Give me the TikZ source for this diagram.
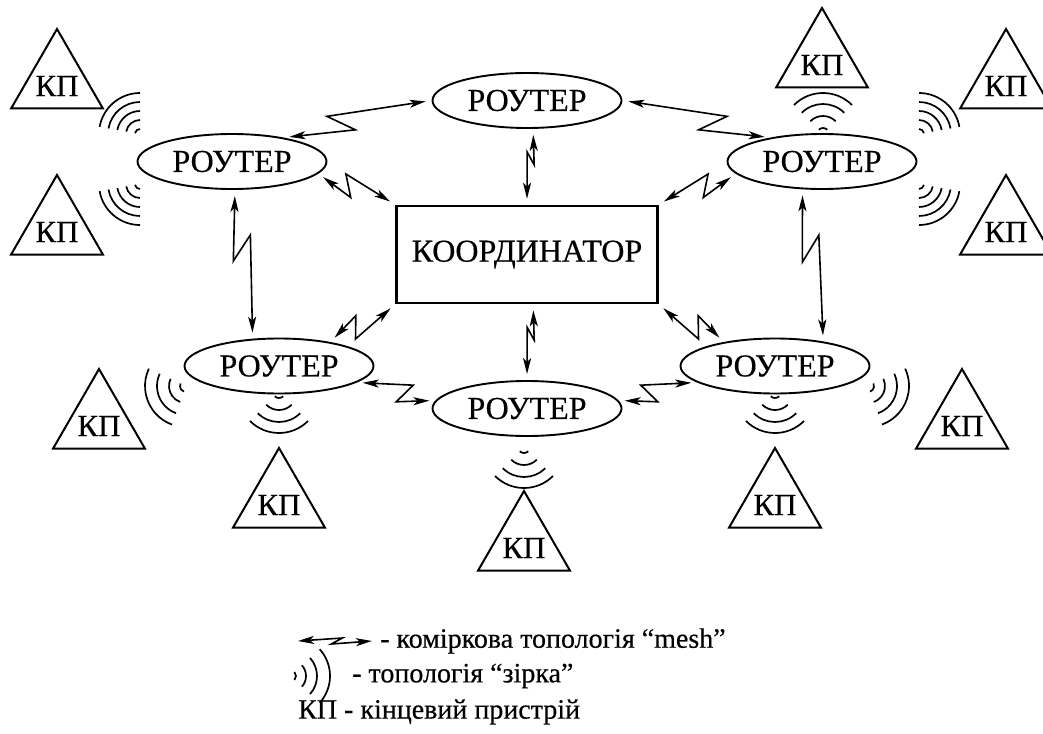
\documentclass[tikz,border=0pt]{standalone}
\usepackage{fontspec}
\setmainfont{Liberation Serif}[FakeBold=0.4]
\usetikzlibrary{shapes.geometric, arrows.meta, calc}

% lightning link: [kink size] start, end, side of first kink, side of second kink
\newcommand{\zap}[5][10pt]{\draw [zap, shorten <=6pt, shorten >=6pt] (#2) -- ($(#2)!0.47!(#3)!#1!#4:(#3)$) -- ($(#2)!0.31!(#3)!#1!#5:(#3)$) -- (#3);}
% radio waves: centre, start angle, end angle, radii
\newcommand{\waves}[4]{\foreach \r in {#4} \draw [wave] (#1) ++(#2:\r) arc[start angle=#2, end angle=#3, radius=\r];}

\begin{document}
\begin{tikzpicture}[x=1pt, y=1pt, node distance=154pt]
        \tikzstyle{coordinator} = [rectangle, minimum width=261pt, minimum height=97pt, text centered, draw=black, line width=2.6pt, font=\fontsize{32}{38}\selectfont]
        \tikzstyle{router} = [ellipse, minimum width=189pt, minimum height=55pt, inner sep=0pt, text centered, draw=black, line width=1.9pt, font=\fontsize{32}{38}\selectfont]
        \tikzstyle{device} = [regular polygon, regular polygon sides=3, minimum size=106pt, inner sep=0pt, draw=black, line width=2pt, label={[font=\fontsize{31}{36}\selectfont, yshift=-4pt]center:КП}]
        \tikzstyle{zap} = [line width=1.6pt, <->, >={Stealth[length=16pt, width=8pt, inset=4pt]}]
        \tikzstyle{wave} = [line width=1.7pt]
        \tikzstyle{legend} = [anchor=west, inner sep=0pt, font=\fontsize{28}{34}\selectfont]

        \useasboundingbox (0,0) rectangle (1043,-733);

        \node (coord) [coordinator] at (527,-254.5) {КООРДИНАТОР};
        \node (top) [router, above of=coord] {РОУТЕР};
        \node (bot) [router, below of=coord] {РОУТЕР};
        \node (ul) [router, left of=coord, xshift=-141pt, yshift=93pt] {РОУТЕР};
        \node (ur) [router, right of=coord, xshift=141pt, yshift=93pt] {РОУТЕР};
        \node (ll) [router, left of=coord, xshift=-94pt, yshift=-111.5pt] {РОУТЕР};
        \node (lr) [router, right of=coord, xshift=94pt, yshift=-111.5pt] {РОУТЕР};

        \node (kp1) [device, left of=ul, xshift=-21pt, yshift=79.5pt] {};
        \node (kp2) [device, left of=ul, xshift=-21pt, yshift=-66.5pt] {};
        \node (kp3) [device, above of=ur, yshift=-53.5pt] {};
        \node (kp4) [device, right of=ur, xshift=30pt, yshift=79.5pt] {};
        \node (kp5) [device, right of=ur, xshift=30pt, yshift=-66.5pt] {};
        \node (kp6) [device, left of=ll, xshift=-26pt, yshift=-56pt] {};
        \node (kp7) [device, below of=ll, yshift=19pt] {};
        \node (kp8) [device, below of=bot, xshift=-3pt, yshift=18.5pt] {};
        \node (kp9) [device, below of=lr, yshift=19pt] {};
        \node (kp10) [device, right of=lr, xshift=33pt, yshift=-56pt] {};

        % mesh links
        \zap{ul.25}{top.west}{270}{90}
        \zap{ur.155}{top.east}{90}{270}
        \zap{ul.352}{coord.north west}{270}{90}
        \zap{ur.188}{coord.north east}{90}{270}
        \zap[4pt]{top.282}{coord.north}{90}{270}
        \zap[4pt]{coord.277}{bot.north}{90}{270}
        \zap{ll.25}{coord.south west}{90}{270}
        \zap{lr.155}{coord.south east}{270}{90}
        \zap{bot.175}{ll.348}{90}{270}
        \zap{bot.5}{lr.192}{270}{90}
        \zap{ul.276}{ll.134}{270}{90}
        \zap{ur.235}{lr.27}{270}{90}

        % star links
        \waves{140,-134}{90}{170}{5,14,23,32,41}
        \waves{140,-184}{190}{270}{5,14,23,32,41}
        \waves{919,-134}{10}{90}{5,14,23,32,41}
        \waves{919,-184}{270}{350}{5,14,23,32,41}
        \waves{823,-134}{45}{135}{6,18,30,41}
        \waves{186,-386}{155}{250}{6,17,29,41}
        \waves{868,-386}{-70}{25}{6,17,29,41}
        \waves{279,-392}{225}{315}{6,18,30,41}
        \waves{524,-447}{225}{315}{6,18,30,41}
        \waves{775,-392}{225}{315}{6,18,30,41}

        % legend
        \coordinate (mesha) at (298,-641);
        \coordinate (meshb) at (372,-641);
        \draw [zap] (mesha) -- ($(mesha)!0.6!(meshb)!3pt!90:(meshb)$) -- ($(mesha)!0.45!(meshb)!3pt!270:(meshb)$) -- (meshb);
        \node (meshtxt) [legend] at (380,-641) {- коміркова топологія “mesh”};
        \waves{290,-676}{-42}{42}{6,16,27,40}
        \node (startxt) [legend] at (352,-676) {- топологія “зірка”};
        \node (kptxt) [legend] at (298,-712) {КП - кінцевий пристрій};
\end{tikzpicture}
\end{document}
